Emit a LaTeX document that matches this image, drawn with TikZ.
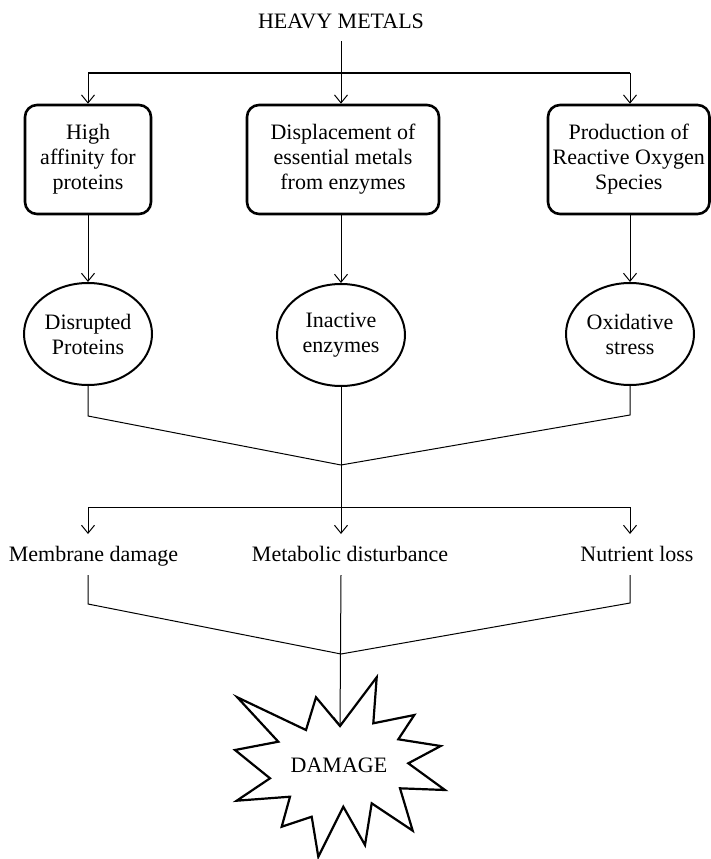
\documentclass[tikz,border=0pt]{standalone}
\usepackage{fontspec}
\setmainfont{Liberation Serif}
\usetikzlibrary{arrows.meta,shapes.geometric}
\begin{document}
\begin{tikzpicture}[x=1pt,y=-1pt,
  every node/.style={font=\fontsize{22}{25}\selectfont},
  link/.style={line width=1pt},
  conn/.style={link,-{Straight Barb[length=8pt,width=13pt,line width=1pt]}},
  procbox/.style={draw,line width=2.6pt,rounded corners=12pt,minimum height=109pt,
    align=center,inner sep=0pt},
  effect/.style={draw,ellipse,line width=2pt,minimum width=128pt,minimum height=102pt,
    align=center,inner sep=0pt},
  outcome/.style={inner xsep=0pt,inner ysep=0pt,outer ysep=11pt,text height=16pt,text depth=3pt,anchor=base},
  burst/.style={draw,line width=2.2pt,line join=miter,miter limit=20}
]
\clip (0,0) rectangle (711,859);
\fill[white] (0,0) rectangle (711,859);

% source
\node[anchor=base,inner sep=0pt,outer ysep=12pt] (hm) at (341,29) {HEAVY METALS};

% mechanisms
\node[procbox,minimum width=126pt] (b1) at (88,159.5) {High\\affinity for\\proteins};
\node[procbox,minimum width=192pt] (b2) at (343,159.5) {Displacement of\\essential metals\\from enzymes};
\node[procbox,minimum width=161.5pt] (b3) at (628.75,159.5) {Production of\\Reactive Oxygen\\Species};

% direct effects
\node[effect] (e1) at (88,334) {Disrupted\\Proteins};
\node[effect] (e2) at (341,335) {Inactive\\enzymes};
\node[effect] (e3) at (630,334) {Oxidative\\stress};

% consequences
\node[outcome] (l1) at (93.5,561) {Membrane damage};
\node[outcome] (l2) at (350,561) {Metabolic disturbance};
\node[outcome] (l3) at (637,561) {Nutrient loss};

% final outcome
\node[anchor=base,inner sep=0pt] (dmg) at (339,772) {DAMAGE};

\coordinate (fork1) at (341,73);
\coordinate (j1) at (341,465);
\coordinate (fork2) at (341,507);
\coordinate (j2) at (341,654);
\coordinate (tip) at (340,726);

% burst outline
\draw[burst] (tip) -- (376.7,677.3) -- (373.3,723.3) -- (414.3,715) -- (398.3,739.3)
  -- (440.7,746) -- (408.3,763.3) -- (445,790) -- (400,788.3) -- (412.7,830.7)
  -- (371.7,803.3) -- (365,845) -- (343.3,806.7) -- (318.3,856.7) -- (311.7,816.7)
  -- (281.7,826.7) -- (290,796.7) -- (236.7,800.7) -- (270,778.3) -- (235,750)
  -- (278.3,741.7) -- (237.3,697.3) -- (306,730) -- (316,697.3) -- cycle;

% top fan-out
\draw[conn] (hm.south) -- (hm.south |- b2.north);
\draw[link] (fork1 -| b1.north) -- (fork1 -| e3.north);
\draw[conn] (fork1 -| b1.north) -- (b1.north);
\draw[conn] (fork1 -| e3.north) -- (e3.north |- b3.north);

% mechanisms to effects
\draw[conn] (b1.south) -- (e1.north);
\draw[conn] (b2.south -| e2.north) -- (e2.north);
\draw[conn] (b3.south -| e3.north) -- (e3.north);

% effects merge and spread
\draw[link] (e1.south) -- ++(0,30) -- (j1);
\draw[link] (e3.south) -- ++(0,29) -- (j1);
\draw[link] (fork2 -| e1.south) -- (fork2 -| e3.south);
\draw[conn] (fork2 -| e1.south) -- (e1.south |- l1.north);
\draw[conn] (fork2 -| e3.south) -- (e3.south |- l3.north);
\draw[conn] (e2.south) -- (e2.south |- l2.north);

% consequences merge into damage
\draw[link] (e1.south |- l1.south) -- ++(0,29) -- (j2);
\draw[link] (e3.south |- l3.south) -- ++(0,28) -- (j2);
\draw[conn] (e2.south |- l2.south) -- (tip);
\end{tikzpicture}
\end{document}
